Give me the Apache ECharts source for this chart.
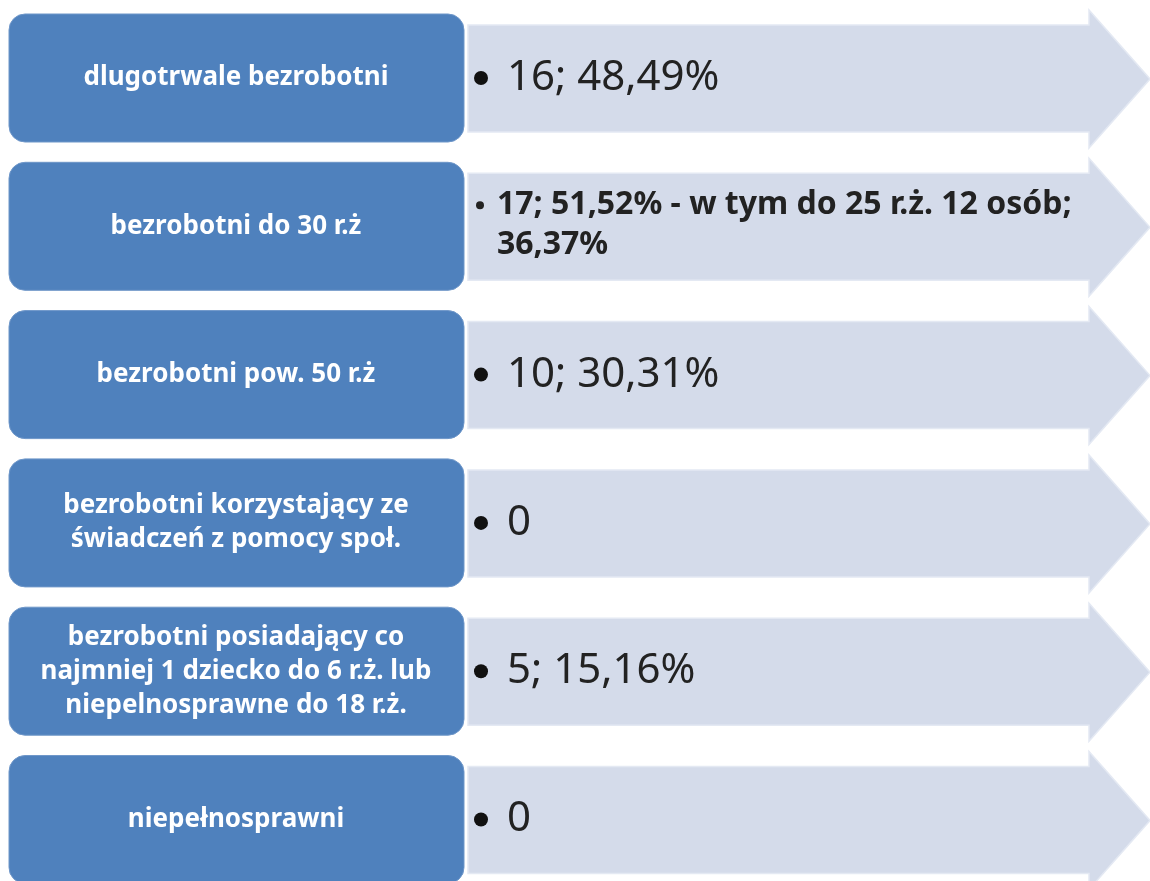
<!DOCTYPE html>
<html lang="pl">
<head>
<meta charset="UTF-8">
<title>Bezrobotni - grupy</title>
<script src="https://cdn.jsdelivr.net/npm/echarts@6/dist/echarts.min.js"></script>
<style>
body {margin: 0; background: #fff;}
#main {width: 1150px; height: 881px;}
</style>
</head>
<body>
<div id="main"></div>
<script>
// group names (left boxes)
var labels = [
  'dlugotrwale bezrobotni',
  'bezrobotni do 30 r.ż',
  'bezrobotni pow. 50 r.ż',
  'bezrobotni korzystający ze\nświadczeń z pomocy społ.',
  'bezrobotni posiadający co\nnajmniej 1 dziecko do 6 r.ż. lub\nniepelnosprawne do 18 r.ż.',
  'niepełnosprawni'
];
// number of persons and share
var counts = [16, 17, 10, 0, 5, 0];
var shares = ['48,49%', '51,52%', '30,31%', '', '15,16%', ''];
// extra remark shown in the arrow (row 2 only)
var notes = ['', ' - w tym do 25 r.ż. 12 osób;\n36,37%', '', '', '', ''];

var rowTop0 = 14, rowStep = 148.3;

var chart = echarts.init(document.getElementById('main'));

function arrowText(i) {
  var s = String(counts[i]);
  if (shares[i]) s += '; ' + shares[i];
  return s + notes[i];
}

chart.setOption({
  animation: false,
  grid: {left: 0, right: 0, top: 0, bottom: 0},
  xAxis: {type: 'value', min: 0, max: 1150, show: false},
  yAxis: {type: 'value', min: 0, max: 881, inverse: true, show: false},
  series: [{
    type: 'custom',
    clip: false,
    data: labels.map(function (l, i) { return [i]; }),
    renderItem: function (params, api) {
      var i = api.value(0);
      var top = rowTop0 + i * rowStep;
      var c = function (x, y) { return api.coord([x, y]); };
      var a = c(9, top), b = c(464, top + 128);
      var pts = [
        c(468, top + 11), c(1089, top + 11), c(1089, top - 4), c(1150, top + 65),
        c(1089, top + 134), c(1089, top + 118), c(468, top + 118)
      ];
      var mid = c(236, top + 64);
      var children = [
        {type: 'polygon', shape: {points: pts},
         style: {fill: '#D4DBEA', stroke: '#E4E9F3', lineWidth: 1.5}},
        {type: 'rect', shape: {x: a[0], y: a[1], width: b[0] - a[0], height: b[1] - a[1], r: 16},
         style: {fill: '#4F81BD', stroke: '#6F97C9', lineWidth: 1}},
        {type: 'text', x: mid[0], y: mid[1],
         style: {text: labels[i], fill: '#fff', align: 'center', verticalAlign: 'middle',
                 font: 'bold 26px "Noto Sans"', lineHeight: 34}}
      ];
      if (notes[i]) {
        var bp = c(480, top + 43), tp = c(497, top + 23);
        children.push(
          {type: 'circle', shape: {cx: bp[0], cy: bp[1], r: 4}, style: {fill: '#222'}},
          {type: 'text', x: tp[0], y: tp[1],
           style: {text: arrowText(i), fill: '#222', align: 'left', verticalAlign: 'top',
                   font: 'bold 32px "Noto Sans"', lineHeight: 40}}
        );
      } else {
        var bp2 = c(481, top + 64), tp2 = c(507, top + 64);
        children.push(
          {type: 'circle', shape: {cx: bp2[0], cy: bp2[1], r: 7}, style: {fill: '#111'}},
          {type: 'text', x: tp2[0], y: tp2[1],
           style: {text: arrowText(i), fill: '#222', align: 'left', verticalAlign: 'middle',
                   font: '42px "Noto Sans"'}}
        );
      }
      return {type: 'group', children: children};
    }
  }]
});
</script>
</body>
</html>
